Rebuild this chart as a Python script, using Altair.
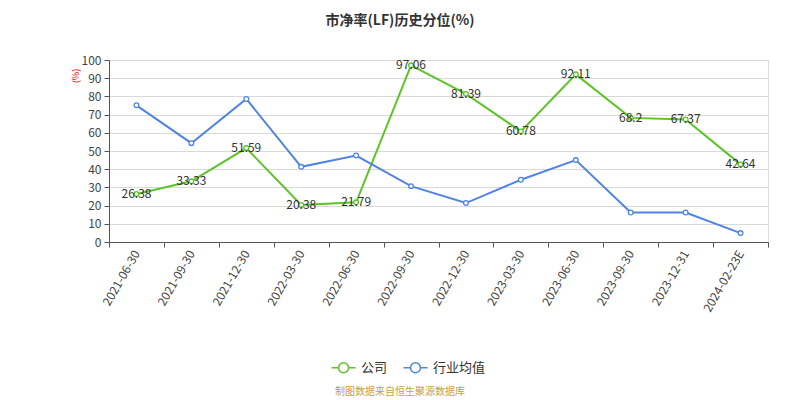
import altair as alt
import pandas as pd

dates = ["2021-06-30", "2021-09-30", "2021-12-30", "2022-03-30", "2022-06-30",
         "2022-09-30", "2022-12-30", "2023-03-30", "2023-06-30", "2023-09-30",
         "2023-12-31", "2024-02-23E"]
company = [26.38, 33.33, 51.59, 20.38, 21.79, 97.06, 81.39, 60.78, 92.11, 68.2, 67.37, 42.64]
industry = [75.1, 54.3, 78.6, 41.3, 47.5, 30.7, 21.4, 34.2, 45.0, 16.2, 16.2, 4.9]
series_names = ["公司", "行业均值"]
colors = ["#5cc425", "#4f84e6"]

FONT = "Noto Sans CJK SC"

rows = []
for d, v in zip(dates, company):
    rows.append({"date": d, "value": v, "series": series_names[0], "label": f"{v:g}"})
for d, v in zip(dates, industry):
    rows.append({"date": d, "value": v, "series": series_names[1], "label": ""})
df = pd.DataFrame(rows)

x_enc = alt.X("date:N", sort=dates, title=None,
              scale=alt.Scale(paddingInner=0, paddingOuter=0),
              axis=alt.Axis(labelAngle=300, labelAlign="right", labelBaseline="middle",
                            labelFontSize=12, labelColor="#444", labelFont=FONT,
                            tickBand="extent", tickColor="#555", tickSize=5,
                            domainColor="#555", labelPadding=4, grid=False))
y_enc = alt.Y("value:Q", title=None,
              scale=alt.Scale(domain=[0, 100], nice=False),
              axis=alt.Axis(values=list(range(0, 101, 10)), labelFontSize=12,
                            labelColor="#444", labelFont=FONT, gridColor="#d9d9d9",
                            tickColor="#555", tickSize=5, domainColor="#555",
                            labelPadding=3))

legend_path = "M-2.4,0L-1,0M1,0L2.4,0M1,0A1,1,0,1,1,-1,0A1,1,0,1,1,1,0"

color_enc = alt.Color("series:N", scale=alt.Scale(domain=series_names, range=colors),
                      legend=alt.Legend(title=None, orient="none", direction="horizontal",
                                        legendX=228, legendY=301,
                                        symbolType=legend_path, symbolSize=100,
                                        symbolStrokeWidth=1.5, symbolFillColor="white",
                                        labelFontSize=13, labelColor="#333",
                                        labelFont=FONT, columnPadding=12,
                                        labelOffset=11, symbolOffset=0))

base = alt.Chart(df)

lines = base.mark_line(strokeWidth=2).encode(x=x_enc, y=y_enc, color=color_enc)
points = base.mark_point(filled=True, fill="white", size=22, strokeWidth=1.3, opacity=1).encode(
    x=x_enc, y=y_enc, stroke=alt.Stroke("series:N", scale=alt.Scale(domain=series_names, range=colors), legend=None))
labels = base.transform_filter(alt.datum.series == series_names[0]).mark_text(
    fontSize=12, color="#333", font=FONT, baseline="middle", align="center").encode(
    x=x_enc, y=y_enc, text="label:N")

title_df = pd.DataFrame({"t": ["市净率(LF)历史分位(%)"]})
title = alt.Chart(title_df).mark_text(fontSize=14, fontWeight="bold", color="#333",
                                      font=FONT, baseline="middle").encode(
    x=alt.value(291), y=alt.value(-39), text="t:N")

unit_df = pd.DataFrame({"t": ["(%)"]})
unit = alt.Chart(unit_df).mark_text(fontSize=9, color="#e00", font=FONT, angle=270,
                                    baseline="middle").encode(
    x=alt.value(-33), y=alt.value(16), text="t:N")

foot_df = pd.DataFrame({"t": ["制图数据来自恒生聚源数据库"]})
foot = alt.Chart(foot_df).mark_text(fontSize=10, color="#c8a040", font=FONT,
                                    baseline="middle").encode(
    x=alt.value(291), y=alt.value(332), text="t:N")

chart = alt.layer(lines, points, labels, title, unit, foot).properties(
    width=659, height=182,
    padding={"left": 101, "top": 52, "right": 24, "bottom": 158},
    autosize=alt.AutoSizeParams(type="none"),
).configure_view(stroke=None).configure(font=FONT)

chart.save("out.html", embed_options={"renderer": "svg", "actions": False})
